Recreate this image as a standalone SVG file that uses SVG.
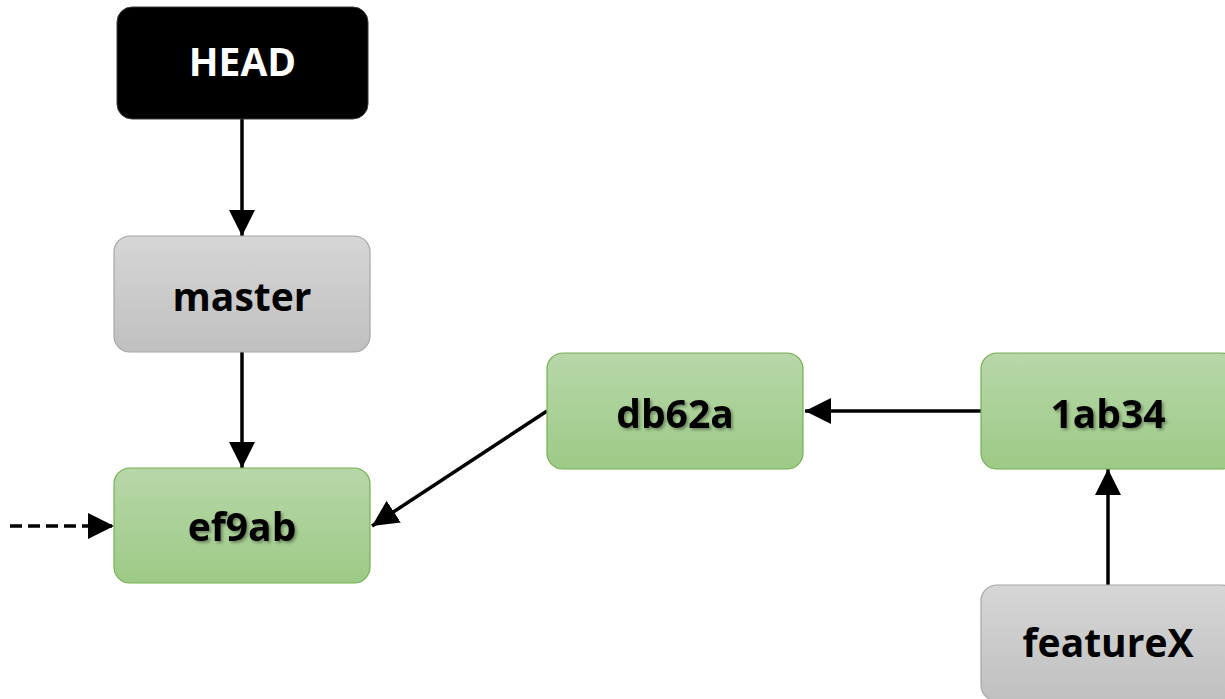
<svg xmlns="http://www.w3.org/2000/svg" width="1225" height="699" viewBox="0 0 1225 699">
  <defs>
    <linearGradient id="gGray" x1="0" y1="0" x2="0" y2="1">
      <stop offset="0" stop-color="#d6d6d6"/>
      <stop offset="1" stop-color="#c0c0c0"/>
    </linearGradient>
    <linearGradient id="gGreen" x1="0" y1="0" x2="0" y2="1">
      <stop offset="0" stop-color="#b7d7a9"/>
      <stop offset="1" stop-color="#9dca86"/>
    </linearGradient>
    <filter id="shadow" x="-20%" y="-30%" width="140%" height="160%">
      <feGaussianBlur in="SourceAlpha" stdDeviation="1.5"/>
      <feOffset dx="1.5" dy="1.5" result="b"/>
      <feComponentTransfer><feFuncA type="linear" slope="0.35"/></feComponentTransfer>
      <feMerge><feMergeNode/><feMergeNode in="SourceGraphic"/></feMerge>
    </filter>
    <marker id="arrow" markerUnits="userSpaceOnUse" markerWidth="26" markerHeight="26" viewBox="0 0 26 26" refX="26" refY="13" orient="auto">
      <path d="M0,0 L26,13 L0,26 Z" fill="#000"/>
    </marker>
  </defs>
  <style>
    .gray { fill: url(#gGray); stroke: #a6a6a6; stroke-width: 1.2; }
    .green { fill: url(#gGreen); stroke: #74b050; stroke-width: 1.2; }
    .black { fill: #000; stroke: #3a3a3a; stroke-width: 1; }
    .lbl { font-family: "Open Sans", "Liberation Sans", sans-serif; font-weight: bold; font-size: 39px; text-anchor: middle; }
    .dark { fill: #000; }
    .light { fill: #fff; }
    .conn { stroke: #000; stroke-width: 3.5; fill: none; marker-end: url(#arrow); }
  </style>
  <rect width="1225" height="699" fill="#fff"/>

  <g id="connectors">
    <line class="conn" x1="242" y1="119" x2="242" y2="236"/>
    <line class="conn" x1="242" y1="352" x2="242" y2="468"/>
    <line class="conn" x1="547" y1="411" x2="372" y2="526"/>
    <line class="conn" x1="981" y1="411" x2="805" y2="411"/>
    <line class="conn" x1="1108" y1="585" x2="1108" y2="469"/>
    <line class="conn" x1="10" y1="526" x2="114" y2="526" stroke-dasharray="12 6"/>
  </g>

  <g id="node-head">
    <rect class="black" x="117" y="7" width="251" height="112" rx="15"/>
    <text class="lbl light" x="242.5" y="76">HEAD</text>
  </g>
  <g id="node-master">
    <rect class="gray" x="114" y="236" width="256" height="116" rx="16"/>
    <text class="lbl dark" x="242" y="311">master</text>
  </g>
  <g id="node-ef9ab">
    <rect class="green" x="114" y="468" width="256" height="115" rx="16"/>
    <text class="lbl dark" x="242" y="541" filter="url(#shadow)">ef9ab</text>
  </g>
  <g id="node-db62a">
    <rect class="green" x="547" y="353" width="256" height="116" rx="16"/>
    <text class="lbl dark" x="675" y="428" filter="url(#shadow)">db62a</text>
  </g>
  <g id="node-1ab34">
    <rect class="green" x="981" y="353" width="256" height="116" rx="16"/>
    <text class="lbl dark" x="1108" y="428" filter="url(#shadow)">1ab34</text>
  </g>
  <g id="node-featureX">
    <rect class="gray" x="981" y="585" width="256" height="116" rx="16"/>
    <text class="lbl dark" x="1108" y="657">featureX</text>
  </g>
</svg>
